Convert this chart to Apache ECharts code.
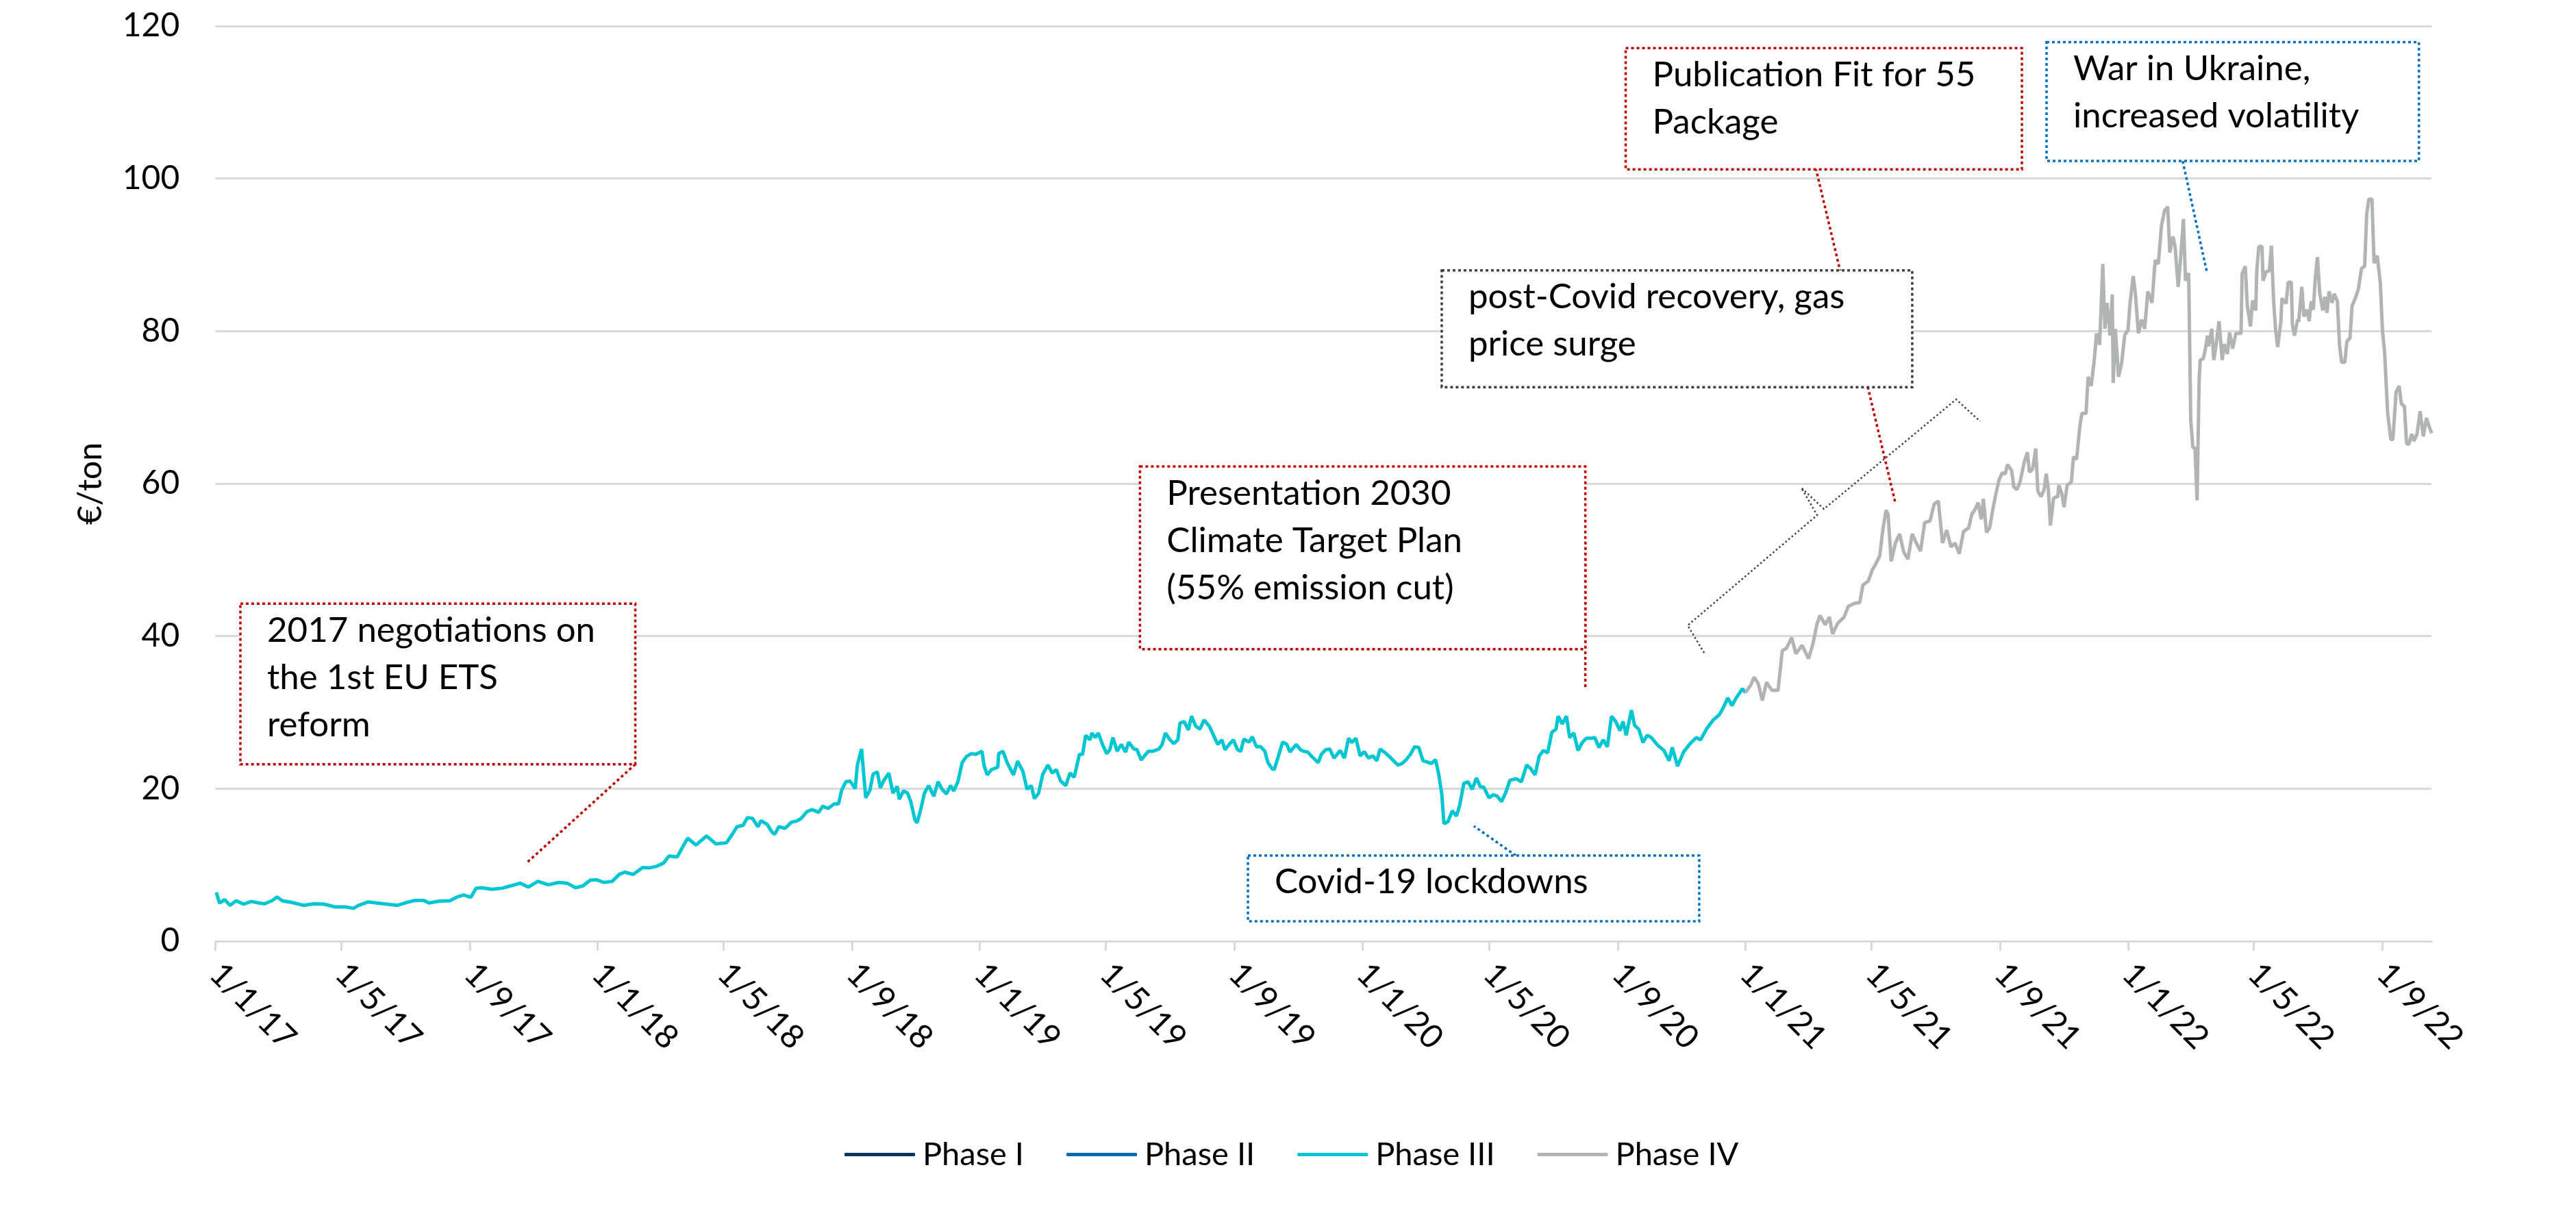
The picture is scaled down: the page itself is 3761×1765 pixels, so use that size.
<!DOCTYPE html>
<html>
<head>
<meta charset="utf-8">
<title>EU ETS price</title>
<script src="https://cdn.jsdelivr.net/npm/echarts@6/dist/echarts.min.js"></script>
<style>
  html, body { margin: 0; padding: 0; background: #fff; }
  #chart { width: 3761px; height: 1765px; }
</style>
</head>
<body>
<div id="chart"></div>
<script>
// x values are days since 1 Jan 2017
const seriesNames = ['Phase I', 'Phase II', 'Phase III', 'Phase IV'];
const tickLabels = ['1/1/17', '1/5/17', '1/9/17', '1/1/18', '1/5/18', '1/9/18', '1/1/19', '1/5/19', '1/9/19',
  '1/1/20', '1/5/20', '1/9/20', '1/1/21', '1/5/21', '1/9/21', '1/1/22', '1/5/22', '1/9/22'];
const yTicks = [0, 20, 40, 60, 80, 100, 120];

const p3Days = [1, 4, 9, 14, 20, 27, 34, 40, 47, 54, 59, 64, 74, 84, 94, 104, 114, 124, 132, 137, 146, 154, 164, 174, 182, 191, 199, 204, 214, 224, 231, 237, 244, 249, 254, 264, 274, 282, 291, 299, 308, 318, 328, 336, 344, 351, 358, 364, 371, 379, 386, 391, 399, 408, 414, 421, 428, 433, 441, 446, 451, 459, 469, 478, 488, 494, 498, 504, 508, 513,
  518, 521, 527, 531, 534, 538, 544, 550, 555, 559, 565, 570, 576, 580, 585, 591, 595, 598, 602, 606, 611, 613, 617, 621, 625, 628, 632, 635, 638, 643, 647, 651, 653, 657, 661, 664, 668, 670, 673, 677, 681, 686, 690, 694, 698, 702, 705, 709, 713, 717, 722, 726, 732, 734, 737, 741, 747, 748, 752, 756, 762, 766, 771, 775, 779, 782, 786, 790, 795, 799, 803, 807, 812, 816, 820, 825, 828, 831, 835, 837, 840, 843, 847, 851, 854, 857, 861, 865, 869, 872, 877, 880, 884, 887, 891, 895, 901, 904, 907, 911, 915, 919, 921, 925, 929, 932, 936, 940, 944, 949, 953, 957, 961, 964, 968, 972, 976, 979, 982, 987, 990, 994, 998, 1002, 1005, 1009, 1011, 1015, 1019, 1023, 1026, 1032, 1036, 1039, 1043, 1047, 1053, 1056, 1060, 1064, 1068,
  1074, 1078, 1082, 1085, 1089, 1093, 1097, 1101, 1105, 1109, 1112, 1117, 1121, 1125, 1129, 1133, 1137, 1141, 1145, 1149, 1153, 1157, 1161, 1165, 1168, 1171, 1173, 1177, 1181, 1185, 1188, 1192, 1196, 1200, 1204, 1208, 1211, 1216, 1220, 1224, 1228, 1232, 1236, 1242, 1247, 1252, 1256, 1260, 1264, 1268, 1272, 1276, 1280, 1282, 1286, 1290, 1293, 1297, 1301, 1305, 1309, 1313, 1317, 1321, 1325, 1329, 1333, 1337, 1341, 1344, 1347, 1352, 1355, 1359, 1363, 1367, 1371, 1377, 1383, 1388, 1391, 1396, 1402, 1408, 1414, 1418, 1424, 1430, 1436, 1440, 1444, 1448, 1452, 1458, 1461];
const p3Prices = [6.4, 5.0, 5.45, 4.7, 5.3, 4.85, 5.2, 5.05, 4.9, 5.3, 5.8, 5.3, 5.05, 4.7, 4.9, 4.85, 4.5, 4.5, 4.3, 4.7, 5.15, 5.0, 4.85, 4.7, 5.05, 5.35, 5.35, 5.0, 5.25, 5.3, 5.8, 6.05, 5.75, 6.95, 7.0, 6.8, 6.95, 7.25, 7.6, 7.1, 7.85, 7.4, 7.7, 7.6, 7.0, 7.25, 8.0, 8.05, 7.7, 7.85, 8.8, 9.05, 8.75, 9.65, 9.6, 9.8, 10.25, 11.15, 11.05, 12.3, 13.5, 12.6, 13.8, 12.75, 12.9, 14.1, 15.0, 15.2, 16.2, 16.1,
  15.0, 15.8, 15.3, 14.4, 14.0, 15.0, 14.8, 15.6, 15.75, 16.05, 17.0, 17.25, 16.9, 17.7, 17.4, 18.0, 18.0, 19.8, 20.9, 21.0, 20.0, 23.1, 25.2, 18.8, 19.8, 21.9, 22.2, 20.1, 21.0, 22.05, 19.4, 20.3, 18.6, 19.7, 19.4, 18.3, 15.9, 15.5, 17.0, 19.4, 20.4, 19.0, 20.9, 19.9, 19.3, 20.4, 19.7, 20.9, 23.4, 24.2, 24.6, 24.5, 24.9, 23.0, 21.8, 22.5, 22.8, 24.6, 24.9, 23.4, 21.8, 23.6, 22.3, 19.9, 20.4, 18.7, 19.4, 21.9, 23.1, 22.05, 22.5, 21.0, 20.4, 22.05, 21.5, 24.5, 24.5, 27.0, 26.4, 27.3, 26.7, 27.3, 25.8, 24.6, 25.1, 26.7, 24.9, 25.8, 24.8, 26.1, 25.2, 25.1, 23.75, 24.3, 24.9, 24.9, 25.2, 25.8, 27.3, 26.5, 25.9, 26.4, 28.6, 28.8, 27.7, 29.5, 28.2, 27.8, 29.0, 28.2, 27.0, 25.8, 26.4, 25.1, 25.8, 26.4, 25.1, 24.9, 26.5, 26.1, 26.8, 25.5, 25.5, 24.9, 23.4, 22.6, 22.5, 24.3, 26.1, 25.8, 24.8, 25.8, 25.1, 24.9, 24.8, 24.2, 23.4, 24.5, 25.1, 25.2, 24.0,
  25.0, 24.0, 26.6, 26.05, 26.6, 24.3, 24.85, 24.0, 24.3, 23.65, 25.2, 24.7, 24.2, 23.65, 23.1, 23.3, 23.8, 24.5, 25.5, 25.4, 23.65, 23.5, 23.3, 23.8, 21.9, 19.2, 15.4, 15.7, 17.1, 16.4, 17.8, 20.7, 20.9, 19.9, 21.4, 20.2, 20.2, 18.8, 19.2, 19.0, 18.3, 19.5, 21.1, 21.3, 20.9, 23.1, 22.6, 21.8, 24.3, 25.0, 24.7, 27.4, 27.8, 29.5, 28.5, 29.5, 26.7, 27.3, 25.0, 26.05, 26.6, 26.6, 26.7, 25.4, 26.4, 25.5, 29.5, 28.8, 27.6, 28.8, 27.0, 30.3, 28.3, 27.8, 26.05, 27.0, 26.7, 25.7, 25.0, 23.65, 25.4, 22.95, 24.85, 25.9, 26.7, 26.4, 27.9, 29.0, 29.7, 30.7, 31.9, 30.9, 31.9, 33.1, 32.6];

const p4Days = [1461, 1466, 1469, 1473, 1477, 1481, 1486, 1492, 1496, 1500, 1505, 1509, 1515, 1521, 1525, 1529, 1532, 1537, 1541, 1544, 1549, 1555, 1559, 1565, 1570, 1573, 1578, 1582, 1585, 1589, 1592, 1595, 1597, 1600, 1604, 1608, 1612, 1616, 1620, 1624, 1628, 1632, 1637, 1641, 1645, 1649, 1653, 1657, 1661, 1665, 1669,
  1674, 1677, 1680, 1683, 1686, 1688, 1691, 1694, 1697, 1700, 1703, 1706, 1709, 1711, 1715, 1717, 1720, 1723, 1727, 1730, 1732, 1735, 1738, 1740, 1743, 1746, 1748, 1750, 1752, 1755, 1759, 1760, 1763, 1765, 1768, 1772, 1774, 1777, 1780, 1782, 1786, 1788, 1791, 1794, 1796, 1799, 1802, 1804, 1806, 1809, 1811, 1812, 1814, 1817, 1820, 1823, 1826, 1828, 1831, 1833, 1836, 1839, 1842, 1845, 1849, 1852, 1855, 1858, 1861, 1864, 1866, 1869, 1871, 1874, 1876, 1879, 1881, 1884, 1886, 1888, 1890, 1892, 1894, 1895, 1898, 1900, 1902, 1903, 1906, 1908, 1910, 1913, 1916, 1918, 1921, 1923, 1926, 1929, 1934, 1935, 1938, 1940, 1943, 1945, 1948, 1949, 1951, 1954, 1955, 1958, 1961, 1963, 1965, 1967, 1969, 1972, 1973, 1977, 1979, 1982, 1983, 1985, 1988, 1989, 1992, 1994, 1997, 1999, 2001, 2003, 2005, 2007, 2009, 2012, 2014, 2016, 2018, 2021, 2023, 2026, 2028, 2030, 2033, 2035, 2038, 2040, 2043, 2046, 2049, 2052, 2054, 2056, 2059, 2061, 2064, 2067, 2069, 2071, 2074, 2077, 2079, 2082, 2085, 2087, 2090, 2092, 2094, 2097, 2099, 2102, 2105, 2108, 2111, 2114, 2116];
const p4Prices = [32.6, 33.6, 34.6, 33.8, 31.55, 33.95, 32.9, 32.9, 38.1, 38.4, 39.8, 37.7, 38.8, 37.05, 38.8, 41.5, 42.7, 41.5, 42.5, 40.3, 41.7, 42.5, 43.9, 44.3, 44.4, 46.7, 47.2, 48.7, 49.4, 50.5, 53.9, 56.5, 56.0, 49.8, 52.2, 53.4, 51.0, 50.1, 53.4, 52.2, 51.15, 54.9, 55.1, 57.3, 57.7, 52.2, 53.9, 51.7, 52.2, 50.8, 53.7,
  54.2, 56.0, 56.6, 57.5, 55.3, 58.0, 53.6, 54.2, 56.6, 58.7, 60.5, 61.4, 61.3, 62.5, 61.7, 59.6, 59.2, 60.2, 62.8, 64.1, 61.5, 61.9, 64.6, 59.0, 58.3, 59.2, 61.3, 59.3, 54.5, 58.1, 58.3, 59.8, 58.6, 56.9, 59.8, 60.2, 63.5, 63.2, 67.4, 69.2, 69.2, 74.0, 72.8, 76.4, 79.7, 78.2, 88.8, 80.3, 83.7, 79.4, 84.8, 73.2, 80.3, 74.0, 75.8, 79.5, 80.1, 83.6, 87.2, 85.1, 79.7, 81.5, 80.3, 85.2, 83.7, 89.3, 88.8, 93.8, 95.8, 96.3, 90.3, 92.4, 91.1, 85.8, 89.0, 94.7, 86.6, 87.6, 68.3, 64.7, 64.7, 57.8, 73.7, 76.2, 76.4, 77.7, 79.4, 78.0, 80.3, 76.2, 78.0, 81.3, 76.2, 78.3, 77.0, 79.8, 77.7, 79.7, 79.7, 87.5, 88.5, 83.3, 80.6, 84.0, 82.7, 87.9, 91.1, 91.1, 86.6, 87.8, 87.9, 91.2, 84.2, 80.1, 77.9, 81.2, 84.3, 83.6, 86.4, 86.4, 80.9, 79.4, 81.5, 81.2, 85.8, 81.9, 82.8, 81.3, 83.9, 82.8, 87.2, 89.7, 85.1, 82.7, 84.5, 82.4, 85.2, 83.7, 84.9, 83.9, 78.2, 75.9, 75.9, 78.6, 79.1, 83.3, 84.3, 85.5, 88.2, 88.5, 95.4, 97.3, 97.3, 88.9, 89.9, 86.3, 80.1, 77.3, 69.2, 65.8, 65.8, 72.0, 72.8, 70.5, 70.1, 65.3, 65.1, 66.5, 65.6, 66.5, 69.5, 66.2, 68.6, 67.3, 66.6];

// annotation boxes, anchored in data space: box = [dayLeft, valueTop, dayRight, valueBottom]
const annotations = [
  { lines: ['2017 negotiations on', 'the 1st EU ETS', 'reform'], color: '#C00000',
    box: [24.0, 44.27, 401.0, 23.2], leader: [[401.0, 23.2], [296.7, 10.19]] },
  { lines: ['Presentation 2030', 'Climate Target Plan', '(55% emission cut)'], color: '#C00000',
    box: [882.8, 62.24, 1308.0, 38.29], leader: [[1308.0, 52.36], [1308.0, 33.23]] },
  { lines: ['Covid-19 lockdowns'], color: '#0070C0',
    box: [985.9, 11.23, 1416.7, 2.6], leader: [[1241.6, 11.23], [1201.6, 15.09]] },
  { lines: ['post-Covid recovery, gas', 'price surge'], color: '#404040',
    box: [1170.9, 87.96, 1620.1, 72.65], leader: null },
  { lines: ['Publication Fit for 55', 'Package'], color: '#C00000',
    box: [1346.5, 117.1, 1724.8, 101.2], leader: [[1528.0, 101.35], [1603.8, 57.56]] },
  { lines: ['War in Ukraine,', 'increased volatility'], color: '#0070C0',
    box: [1748.3, 117.9, 2103.8, 102.3], leader: [[1878.3, 102.29], [1901.4, 87.74]] }
];
const bracePoints = [[1421.4, 37.81], [1405.7, 41.4], [1529.3, 55.86], [1514.2, 59.45], [1535.8, 56.67], [1662.0, 71.04], [1684.9, 68.16]];

const colors = ['#0B355E', '#0F6AB4', '#00C6D2', '#B1B4B5'];
const FONT = 'Lato';
const DAY = 86400000;
const t0 = Date.UTC(2017, 0, 1);
const labelToDay = s => {
  const [d, m, y] = s.split('/').map(Number);
  return Math.round((Date.UTC(2000 + y, m - 1, d) - t0) / DAY);
};
const tickDays = tickLabels.map(labelToDay);
const labelByDay = {};
tickLabels.forEach((s, i) => { labelByDay[tickDays[i]] = s; });

const chart = echarts.init(document.getElementById('chart'));
const lineSeries = (idx, days, prices) => ({
  name: seriesNames[idx],
  type: 'line',
  showSymbol: false,
  symbol: 'none',
  color: colors[idx],
  lineStyle: { color: colors[idx], width: 5 },
  itemStyle: { color: colors[idx] },
  data: days.map((d, i) => [d, prices[i]])
});

chart.setOption({
  animation: false,
  backgroundColor: '#fff',
  grid: { left: 314.3, right: 210.7, top: 38, bottom: 391 },
  legend: {
    data: seriesNames,
    left: 1228,
    top: 1657,
    itemWidth: 103,
    itemHeight: 5,
    itemGap: 62,
    icon: 'roundRect',
    textStyle: { fontSize: 47, fontFamily: FONT, color: '#000', padding: [0, 0, 0, 6] }
  },
  xAxis: {
    type: 'value',
    min: 0,
    max: 2116,
    splitLine: { show: false },
    axisLine: { lineStyle: { color: '#D9D9D9', width: 3 } },
    axisTick: { show: true, customValues: tickDays, length: 14, lineStyle: { color: '#D9D9D9', width: 3 } },
    axisLabel: {
      customValues: tickDays,
      rotate: -45,
      margin: 40,
      fontSize: 48,
      fontFamily: FONT,
      color: '#000',
      formatter: v => labelByDay[Math.round(v)] || ''
    }
  },
  yAxis: {
    type: 'value',
    min: yTicks[0],
    max: yTicks[yTicks.length - 1],
    interval: 20,
    name: '€/ton',
    nameLocation: 'middle',
    nameGap: 158,
    nameTextStyle: { fontSize: 48, fontFamily: FONT, color: '#000' },
    axisLine: { show: false },
    axisTick: { show: false },
    axisLabel: { margin: 52, fontSize: 48, fontFamily: FONT, color: '#000' },
    splitLine: { lineStyle: { color: '#D9D9D9', width: 3 } }
  },
  series: [
    lineSeries(0, [], []),
    lineSeries(1, [], []),
    lineSeries(2, p3Days, p3Prices),
    lineSeries(3, p4Days, p4Prices)
  ]
});

// annotations drawn on top, positioned through the chart's own scales
const toPx = (d, v) => chart.convertToPixel({ gridIndex: 0 }, [d, v]);
const graphics = [];
annotations.forEach(a => {
  if (!a.leader) return;
  const p1 = toPx(a.leader[0][0], a.leader[0][1]);
  const p2 = toPx(a.leader[1][0], a.leader[1][1]);
  graphics.push({ type: 'line', z: 100, silent: true,
    shape: { x1: p1[0], y1: p1[1], x2: p2[0], y2: p2[1] },
    style: { stroke: a.color, lineWidth: 3.5, lineDash: [4, 4] } });
});
graphics.push({ type: 'polyline', z: 100, silent: true,
  shape: { points: bracePoints.map(p => toPx(p[0], p[1])) },
  style: { stroke: '#404040', lineWidth: 2.5, lineDash: [2.5, 3.5], fill: null } });
annotations.forEach(a => {
  const tl = toPx(a.box[0], a.box[1]);
  const br = toPx(a.box[2], a.box[3]);
  graphics.push({ type: 'rect', z: 101, silent: true,
    shape: { x: tl[0], y: tl[1], width: br[0] - tl[0], height: br[1] - tl[1] },
    style: { fill: '#fff', stroke: a.color, lineWidth: 3.5, lineDash: [4, 4] } });
  a.lines.forEach((txt, i) => {
    graphics.push({ type: 'text', z: 102, silent: true,
      style: { text: txt, x: tl[0] + 39, y: tl[1] + 39 + i * 69, font: '51px ' + FONT,
        fill: '#000', align: 'left', verticalAlign: 'middle' } });
  });
});
chart.setOption({ graphic: graphics });
</script>
</body>
</html>
